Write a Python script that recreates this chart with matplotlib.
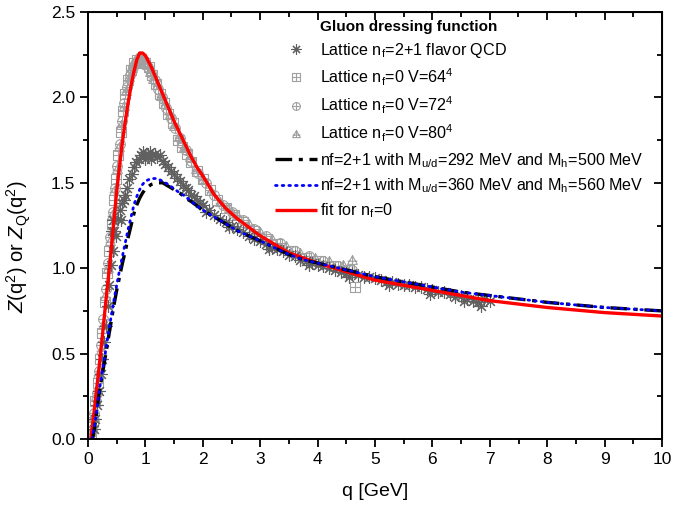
import matplotlib
matplotlib.use("Agg")
import matplotlib.pyplot as plt
from matplotlib.path import Path
from matplotlib.lines import Line2D
from matplotlib.ticker import MultipleLocator, FormatStrFormatter
import numpy as np

plt.rcParams['font.family'] = ['Liberation Sans', 'DejaVu Sans']
plt.rcParams['mathtext.fontset'] = 'custom'
plt.rcParams['mathtext.rm'] = 'Liberation Sans'
plt.rcParams['mathtext.it'] = 'Liberation Sans:italic'
plt.rcParams['mathtext.bf'] = 'Liberation Sans:bold'

# ---------------- data ----------------
# fit for nf=0 (red)
fit_q = [0.05, 0.10, 0.15, 0.20, 0.25, 0.30, 0.35, 0.40, 0.45, 0.50, 0.55, 0.60, 0.65, 0.70,
         0.75, 0.80, 0.85, 0.90, 0.95, 1.00, 1.10, 1.20, 1.30, 1.40, 1.50, 1.60, 1.70, 1.80,
         1.90, 2.00, 2.20, 2.40, 2.60, 2.80, 3.00, 3.25, 3.50, 3.75, 4.00, 4.50, 5.00, 5.50,
         6.00, 6.50, 7.00, 8.00, 9.00, 10.0]
fit_v = [0.00, 0.14, 0.29, 0.44, 0.60, 0.77, 0.93, 1.09, 1.27, 1.45, 1.60, 1.74, 1.86, 1.97,
         2.07, 2.15, 2.22, 2.26, 2.26, 2.245, 2.18, 2.10, 2.02, 1.94, 1.86, 1.79, 1.72, 1.65,
         1.59, 1.54, 1.43, 1.35, 1.29, 1.24, 1.19, 1.14, 1.09, 1.06, 1.03, 0.98, 0.93, 0.90,
         0.87, 0.84, 0.81, 0.77, 0.74, 0.72]

# nf=2+1, M_u/d=292 MeV, M_h=500 MeV (black dash-dot)
m292_q = [0.08, 0.12, 0.16, 0.20, 0.25, 0.30, 0.35, 0.40, 0.45, 0.50, 0.55, 0.60, 0.65, 0.70,
          0.75, 0.80, 0.85, 0.90, 0.95, 1.00, 1.10, 1.20, 1.30, 1.40, 1.50, 1.60, 1.70, 1.80,
          2.00, 2.20, 2.40, 2.60, 2.80, 3.00, 3.25, 3.50, 3.75, 4.00, 4.50, 5.00, 5.50, 6.00,
          6.50, 7.00, 8.00, 9.00, 10.0]
m292_v = [0.00, 0.08, 0.18, 0.28, 0.38, 0.48, 0.58, 0.68, 0.78, 0.87, 0.95, 1.03, 1.10, 1.18,
          1.25, 1.32, 1.37, 1.41, 1.44, 1.465, 1.49, 1.50, 1.50, 1.48, 1.46, 1.44, 1.41, 1.39,
          1.34, 1.30, 1.26, 1.22, 1.19, 1.16, 1.12, 1.08, 1.05, 1.03, 0.99, 0.95, 0.92, 0.89,
          0.86, 0.84, 0.80, 0.77, 0.75]

# nf=2+1, M_u/d=360 MeV, M_h=560 MeV (blue dotted)
m360_q = [0.07, 0.12, 0.16, 0.20, 0.25, 0.30, 0.35, 0.40, 0.45, 0.50, 0.55, 0.60, 0.65, 0.70,
          0.75, 0.80, 0.85, 0.90, 0.95, 1.00, 1.10, 1.20, 1.30, 1.40, 1.50, 1.60, 1.70, 1.80,
          2.00, 2.20, 2.40, 2.60, 2.80, 3.00, 3.25, 3.50, 3.75, 4.00, 4.50, 5.00, 5.50, 6.00,
          6.50, 7.00, 8.00, 9.00, 10.0]
m360_v = [0.00, 0.09, 0.19, 0.29, 0.40, 0.50, 0.61, 0.71, 0.81, 0.90, 0.99, 1.07, 1.15, 1.23,
          1.30, 1.37, 1.42, 1.46, 1.49, 1.51, 1.525, 1.525, 1.51, 1.49, 1.465, 1.44, 1.42, 1.39,
          1.34, 1.30, 1.26, 1.22, 1.19, 1.16, 1.12, 1.08, 1.05, 1.03, 0.99, 0.95, 0.92, 0.89,
          0.86, 0.84, 0.80, 0.77, 0.75]

# Lattice nf=2+1 flavor QCD (asterisks)
lat21_q = [0.10, 0.13, 0.16, 0.19, 0.22, 0.25, 0.28, 0.31, 0.34, 0.37, 0.40, 0.43, 0.46, 0.49,
           0.52, 0.56, 0.60, 0.64, 0.68, 0.72, 0.76, 0.80, 0.84, 0.88, 0.92, 0.96, 1.00, 1.04,
           1.08, 1.12, 1.16, 1.20, 1.25, 1.30, 1.35, 1.40, 1.45, 1.50, 1.55, 1.60, 1.65, 1.70,
           1.75, 1.80, 1.85, 1.90, 1.95, 2.00, 2.10, 2.20, 2.30, 2.40, 2.50, 2.60, 2.70, 2.80,
           2.90, 3.00, 3.10, 3.20, 3.30, 3.40, 3.50, 3.60, 3.70, 3.80, 3.90, 4.00, 4.10, 4.20,
           4.30, 4.40, 4.50, 4.60, 4.70, 4.80, 4.90, 5.00, 5.10, 5.20, 5.30, 5.40, 5.50, 5.60,
           5.70, 5.80, 5.90, 6.00, 6.10, 6.20, 6.30, 6.40, 6.50, 6.60, 6.70, 6.80, 6.90, 7.00,
           0.41, 0.44, 0.58, 0.62, 0.99, 1.10, 2.05, 2.45, 3.15, 3.85, 4.55, 5.25, 5.95, 6.55, 6.85]
lat21_v = [0.06, 0.12, 0.20, 0.28, 0.38, 0.47, 0.57, 0.66, 0.78, 0.90, 1.02, 1.10, 1.22, 1.19,
           1.29, 1.34, 1.38, 1.43, 1.47, 1.52, 1.55, 1.59, 1.62, 1.64, 1.66, 1.68, 1.66, 1.67,
           1.68, 1.66, 1.67, 1.65, 1.66, 1.63, 1.61, 1.59, 1.57, 1.55, 1.53, 1.51, 1.49, 1.47,
           1.46, 1.43, 1.42, 1.40, 1.38, 1.37, 1.34, 1.31, 1.29, 1.27, 1.25, 1.23, 1.21, 1.19,
           1.17, 1.16, 1.14, 1.12, 1.11, 1.10, 1.08, 1.07, 1.05, 1.04, 1.03, 1.02, 1.01, 1.00,
           0.99, 0.98, 0.97, 0.97, 0.96, 0.95, 0.95, 0.94, 0.93, 0.92, 0.92, 0.91, 0.90, 0.90,
           0.89, 0.89, 0.88, 0.87, 0.86, 0.86, 0.85, 0.83, 0.84, 0.82, 0.81, 0.80, 0.82, 0.81,
           1.22, 1.28, 1.28, 1.40, 1.64, 1.64, 1.33, 1.24, 1.11, 1.02, 0.95, 0.90, 0.85, 0.81, 0.78]

# Lattice nf=0 V=64^4 (boxed plus)
l64_q = [0.05, 0.09, 0.13, 0.17, 0.21, 0.25, 0.29, 0.33, 0.37, 0.41, 0.45, 0.49, 0.53, 0.57,
         0.61, 0.65, 0.70, 0.75, 0.80, 0.85, 0.90, 0.95, 1.00, 1.06, 1.12, 1.18, 1.25, 1.32,
         1.40, 1.48, 1.56, 1.64, 1.72, 1.80, 1.90, 2.00, 2.12, 2.25, 2.40, 2.55, 2.70, 2.90,
         3.10, 3.30, 3.55, 3.80, 4.05, 4.30, 4.55, 4.65]
l64_v = [0.02, 0.10, 0.22, 0.33, 0.47, 0.62, 0.80, 0.97, 1.10, 1.26, 1.40, 1.52, 1.66, 1.80,
         1.92, 2.02, 2.10, 2.16, 2.20, 2.22, 2.22, 2.21, 2.20, 2.18, 2.13, 2.08, 2.02, 1.97,
         1.90, 1.85, 1.75, 1.71, 1.67, 1.62, 1.57, 1.52, 1.46, 1.40, 1.35, 1.31, 1.27, 1.22,
         1.17, 1.14, 1.10, 1.06, 1.04, 1.01, 0.99, 0.89]

# Lattice nf=0 V=72^4 (circled plus)
l72_q = [0.07, 0.11, 0.15, 0.19, 0.23, 0.27, 0.31, 0.35, 0.39, 0.43, 0.47, 0.51, 0.55, 0.59,
         0.63, 0.68, 0.73, 0.78, 0.83, 0.88, 0.93, 0.98, 1.04, 1.10, 1.16, 1.22, 1.29, 1.36,
         1.44, 1.52, 1.60, 1.70, 1.80, 1.92, 2.05, 2.20, 2.35, 2.50, 2.70, 2.90, 3.10, 3.35,
         3.60, 3.85, 4.10, 4.35, 4.60]
l72_v = [0.05, 0.15, 0.27, 0.40, 0.55, 0.70, 0.88, 1.03, 1.18, 1.33, 1.47, 1.60, 1.73, 1.86,
         1.97, 2.06, 2.13, 2.18, 2.21, 2.23, 2.22, 2.21, 2.18, 2.14, 2.10, 2.05, 2.00, 1.94,
         1.88, 1.82, 1.76, 1.69, 1.63, 1.56, 1.50, 1.43, 1.37, 1.33, 1.28, 1.23, 1.19, 1.15,
         1.10, 1.07, 1.04, 1.01, 0.99]

# Lattice nf=0 V=80^4 (triangle with plus)
l80_q = [0.06, 0.10, 0.14, 0.18, 0.22, 0.26, 0.30, 0.34, 0.38, 0.42, 0.46, 0.50, 0.54, 0.58,
         0.62, 0.66, 0.71, 0.76, 0.81, 0.86, 0.91, 0.96, 1.02, 1.08, 1.14, 1.20, 1.27, 1.34,
         1.42, 1.50, 1.58, 1.67, 1.77, 1.88, 2.00, 2.15, 2.30, 2.45, 2.60, 2.80, 3.00, 3.20,
         3.45, 3.70, 3.95, 4.20, 4.45, 4.60]
l80_v = [0.04, 0.13, 0.25, 0.38, 0.52, 0.67, 0.84, 1.00, 1.16, 1.31, 1.45, 1.58, 1.71, 1.84,
         1.95, 2.04, 2.12, 2.17, 2.21, 2.23, 2.23, 2.22, 2.19, 2.15, 2.11, 2.07, 2.01, 1.96,
         1.90, 1.83, 1.77, 1.71, 1.65, 1.58, 1.52, 1.45, 1.39, 1.35, 1.31, 1.26, 1.21, 1.17,
         1.13, 1.09, 1.06, 1.04, 1.02, 1.05]

legend_title = "Gluon dressing function"
labels = [r"Lattice n$_\mathregular{f}$=2+1 flavor QCD",
          r"Lattice n$_\mathregular{f}$=0 V=64$^\mathregular{4}$",
          r"Lattice n$_\mathregular{f}$=0 V=72$^\mathregular{4}$",
          r"Lattice n$_\mathregular{f}$=0 V=80$^\mathregular{4}$",
          r"nf=2+1 with M$_\mathregular{u/d}$=292 MeV and M$_\mathregular{h}$=500 MeV",
          r"nf=2+1 with M$_\mathregular{u/d}$=360 MeV and M$_\mathregular{h}$=560 MeV",
          r"fit for n$_\mathregular{f}$=0"]

# ---------------- custom markers ----------------
def compound(*paths):
    return Path.make_compound_path(*paths)

plus = Path([(-1, 0), (1, 0), (0, -1), (0, 1)],
            [Path.MOVETO, Path.LINETO, Path.MOVETO, Path.LINETO])
sq = Path([(-1, -1), (1, -1), (1, 1), (-1, 1), (-1, -1)],
          [Path.MOVETO, Path.LINETO, Path.LINETO, Path.LINETO, Path.CLOSEPOLY])
circ = Path.unit_circle()
tri = Path([(-1, -0.8), (1, -0.8), (0, 1), (-1, -0.8)],
           [Path.MOVETO, Path.LINETO, Path.LINETO, Path.CLOSEPOLY])
tri_plus = Path([(-1, -0.15), (1, -0.15), (0, -0.8), (0, 1)],
                [Path.MOVETO, Path.LINETO, Path.MOVETO, Path.LINETO])
m_sq = compound(sq, plus)
m_circ = compound(circ, plus)
m_tri = compound(tri, tri_plus)
m_ast = (8, 2, 0)

# ---------------- figure ----------------
fig = plt.figure(figsize=(6.91, 5.08), dpi=100)
ax = fig.add_axes([88 / 691, 1 - 439 / 508, (662 - 88) / 691, (439 - 12) / 508])

gray_light = "#a0a0a0"
gray_dark = "#606060"

h64 = ax.plot(l64_q, l64_v, ls='none', marker=m_sq, ms=7, mfc='none', mec=gray_light, mew=0.8)[0]
h72 = ax.plot(l72_q, l72_v, ls='none', marker=m_circ, ms=7, mfc='none', mec=gray_light, mew=0.8)[0]
h80 = ax.plot(l80_q, l80_v, ls='none', marker=m_tri, ms=7, mfc='none', mec=gray_light, mew=0.8)[0]
h21 = ax.plot(lat21_q, lat21_v, ls='none', marker=m_ast, ms=9, mec=gray_dark, mew=0.8)[0]

hred = ax.plot(fit_q, fit_v, color='#ff0000', lw=2.4, solid_capstyle='butt')[0]
hblk = ax.plot(m292_q, m292_v, color='black', lw=2.4, dashes=(5, 2, 1.2, 2))[0]
hblu = ax.plot(m360_q, m360_v, color='#0000ff', lw=2.0, ls=(0, (0.6, 1.8)),
               dash_capstyle='round')[0]

ax.set_xlim(0, 10)
ax.set_ylim(0, 2.5)
ax.xaxis.set_major_locator(MultipleLocator(1))
ax.xaxis.set_minor_locator(MultipleLocator(0.5))
ax.yaxis.set_major_locator(MultipleLocator(0.5))
ax.yaxis.set_minor_locator(MultipleLocator(0.25))
ax.yaxis.set_major_formatter(FormatStrFormatter('%.1f'))
ax.tick_params(which='major', direction='out', length=6, width=1.3, labelsize=12.5, pad=3)
ax.tick_params(which='minor', direction='out', length=3.5, width=1.3)
for s in ax.spines.values():
    s.set_linewidth(1.4)

# mirrored ticks (inward) on top and right
top = ax.secondary_xaxis('top')
top.xaxis.set_major_locator(MultipleLocator(1))
top.xaxis.set_minor_locator(MultipleLocator(0.5))
top.tick_params(which='major', direction='in', length=6, width=1.3, labeltop=False)
top.tick_params(which='minor', direction='in', length=3.5, width=1.3)
right = ax.secondary_yaxis('right')
right.yaxis.set_major_locator(MultipleLocator(0.5))
right.yaxis.set_minor_locator(MultipleLocator(0.25))
right.tick_params(which='major', direction='in', length=6, width=1.3, labelright=False)
right.tick_params(which='minor', direction='in', length=3.5, width=1.3)

ax.set_xlabel("q [GeV]", fontsize=14, labelpad=12)
ax.set_ylabel(r"$\mathit{Z}$(q$^\mathregular{2}$) or $\mathit{Z}_\mathregular{Q}$(q$^\mathregular{2}$)",
              fontsize=14.5, labelpad=8)
ax.yaxis.set_label_coords(-0.095, 0.45)

# legend: title as first (blank-handle) entry, left-aligned with entry text
blank = Line2D([], [], ls='none', marker=None)
handles = [blank, h21, h64, h72, h80, hblk, hblu, hred]
all_labels = [legend_title] + labels
leg = ax.legend(handles, all_labels, loc='upper right', bbox_to_anchor=(0.985, 1.005), frameon=False,
                fontsize=11.6, handlelength=2.6, handletextpad=0.2, labelspacing=0.42,
                borderaxespad=0.2, markerscale=0.8)
leg.get_texts()[0].set_fontweight('bold')
leg.get_texts()[0].set_fontsize(11)

fig.savefig("out.png", dpi=100)
